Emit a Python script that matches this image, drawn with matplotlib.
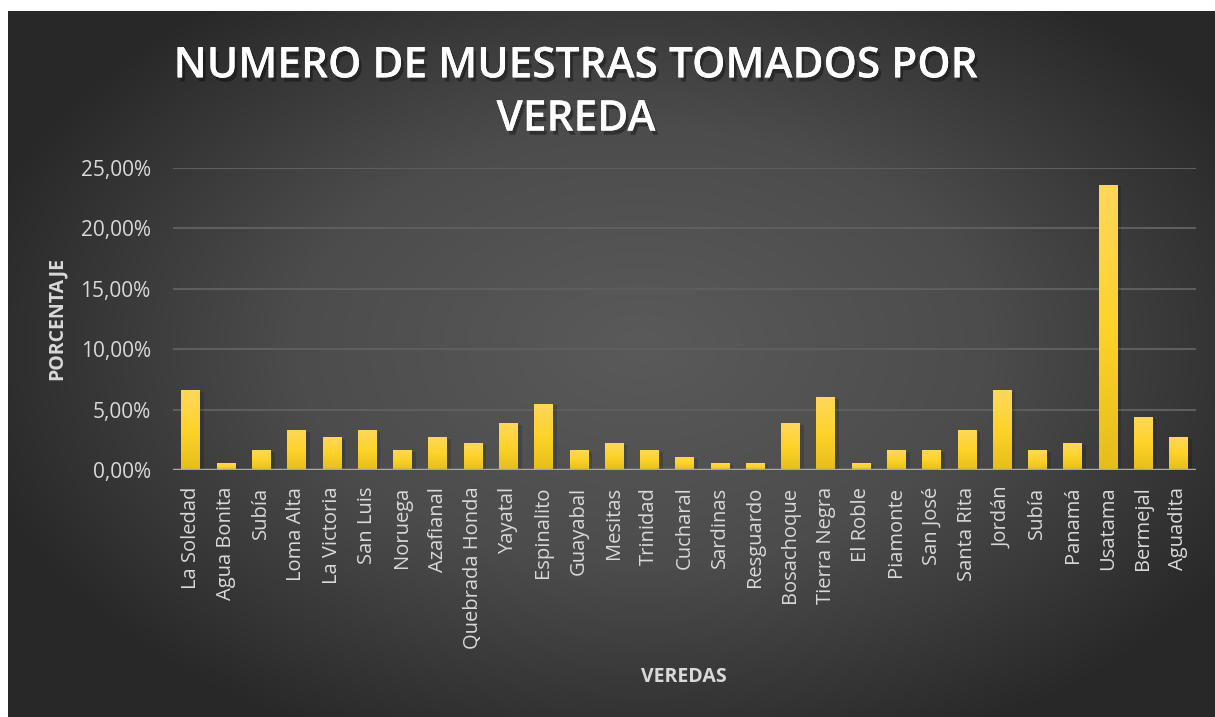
import matplotlib.pyplot as plt
import matplotlib.patheffects as pe
import numpy as np
from matplotlib.colors import LinearSegmentedColormap
from matplotlib.ticker import FuncFormatter

# datos
veredas = ['La Soledad', 'Agua Bonita', 'Subía', 'Loma Alta', 'La Victoria', 'San Luis',
           'Noruega', 'Azafianal', 'Quebrada Honda', 'Yayatal', 'Espinalito', 'Guayabal',
           'Mesitas', 'Trinidad', 'Cucharal', 'Sardinas', 'Resguardo', 'Bosachoque',
           'Tierra Negra', 'El Roble', 'Piamonte', 'San José', 'Santa Rita', 'Jordán',
           'Subía', 'Panamá', 'Usatama', 'Bermejal', 'Aguadita']
porcentaje = [6.59, 0.55, 1.65, 3.30, 2.75, 3.30, 1.65, 2.75, 2.20, 3.85, 5.49, 1.65,
              2.20, 1.65, 1.10, 0.55, 0.55, 3.85, 6.04, 0.55, 1.65, 1.65, 3.30, 6.59,
              1.65, 2.20, 23.63, 4.40, 2.75]
yticks = [0, 5, 10, 15, 20, 25]

W, H = 1215, 717
fig = plt.figure(figsize=(W / 100, H / 100), dpi=100)
fig.patch.set_facecolor('white')

# fondo con degradado radial
bg = fig.add_axes([8 / W, 0, 1 - 8 / W, 1 - 11 / H])
bg.set_axis_off()
gx, gy = np.meshgrid(np.linspace(-1, 1, 600), np.linspace(-1, 1, 360))
r = np.sqrt(((gx - 0.05) / 1.15) ** 2 + ((gy + 0.05) / 1.25) ** 2)
r = np.clip(r, 0, 1)
bg_cmap = LinearSegmentedColormap.from_list('bg', ['#5a5a5a', '#4c4c4c', '#282828'])
bg.imshow(r, cmap=bg_cmap, vmin=0, vmax=1, aspect='auto', extent=[0, 1, 0, 1])
bg.set_xlim(0, 1)
bg.set_ylim(0, 1)

ax = fig.add_axes([173 / W, (H - 470) / H, (1196 - 173) / W, (470 - 168) / H])
ax.patch.set_alpha(0)
x = np.arange(len(veredas))
bars = ax.bar(x, porcentaje, width=0.52, color='#fdd22e', zorder=3)

# degradado amarillo en cada barra
bar_cmap = LinearSegmentedColormap.from_list('bar', ['#e6be1a', '#fdd32a', '#ffd75c'])
grad = np.linspace(0, 1, 256).reshape(-1, 1)
for b in bars:
    bx, bw, bh = b.get_x(), b.get_width(), b.get_height()
    # sombra
    ax.bar(bx + bw / 2 + 0.06, bh, width=bw + 0.12, bottom=-0.15, color='black',
           alpha=0.15, zorder=2)
    im = ax.imshow(grad, cmap=bar_cmap, origin='lower', aspect='auto',
                   extent=[bx, bx + bw, 0, bh], zorder=3)
    im.set_clip_path(b)

ax.set_xlim(-0.5, len(veredas) - 0.5)
ax.set_ylim(0, 25)
ax.set_yticks(yticks)
ax.yaxis.set_major_formatter(FuncFormatter(lambda v, p: f'{v:.2f}'.replace('.', ',') + '%'))
ax.grid(axis='y', color='#5e5e5e', lw=1.5, zorder=0)
ax.axhline(0, color='#a8a8a8', lw=2.5, zorder=4)
for s in ax.spines.values():
    s.set_visible(False)
ax.tick_params(length=0, colors='#d9d9d9', labelsize=15)
ax.tick_params(axis='y', pad=16)
ax.set_xticks(x)
ax.set_xticklabels(veredas, rotation=90, family='Open Sans', fontsize=14.5, color='#d9d9d9')
for t in ax.get_yticklabels():
    t.set_family('Open Sans')
ax.tick_params(axis='x', pad=12)

fig.text(576 / W, 1 - 93 / H, 'NUMERO DE MUESTRAS TOMADOS POR\nVEREDA', ha='center',
         va='center', fontsize=30.5, fontweight='semibold', family='Open Sans', color='white',
         linespacing=1.35,
         path_effects=[pe.withSimplePatchShadow(offset=(2, -3), shadow_rgbFace='black', alpha=0.35),
                       pe.Normal()])
fig.text(57 / W, 1 - 319 / H, 'PORCENTAJE', rotation=90, ha='center', va='center',
         fontsize=14, fontweight='bold', family='Open Sans', color='#d9d9d9')
fig.text(684 / W, 1 - 677 / H, 'VEREDAS', ha='center', va='center',
         fontsize=14, fontweight='bold', family='Open Sans', color='#d9d9d9')

fig.savefig('out.png', dpi=100, facecolor=fig.get_facecolor())
